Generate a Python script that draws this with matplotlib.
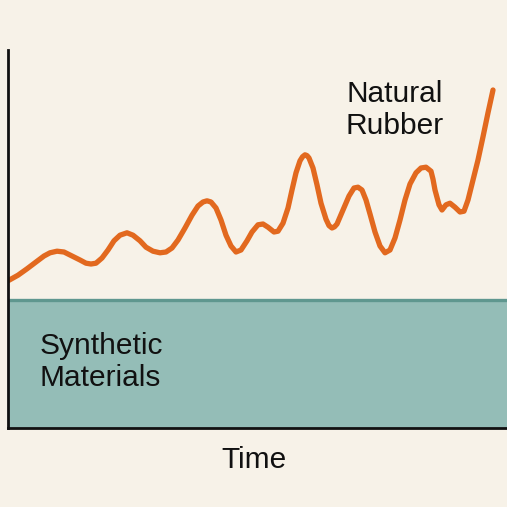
import matplotlib.pyplot as plt

# time (arbitrary units) vs. relative use
time = [0, 2, 3.8, 5.6, 7.2, 8.4, 9.8, 11.2, 12.8, 14.4,
        15.6, 16.6, 17.6, 18.8, 20, 21.2, 22.4, 23.8, 25, 26.4,
        27.6, 29, 30.4, 31.6, 32.8, 34, 35.4, 36.8, 38, 39,
        39.8, 40.6, 41.6, 42.6, 43.6, 44.6, 45.6, 46.6, 47.8, 48.8,
        50, 51, 52, 53.2, 54, 55, 56, 56.8, 57.6, 58.4,
        58.9, 59.4, 59.8, 60.2, 61, 61.8, 62.6, 63.6, 64.2, 64.8,
        65.3, 65.8, 67, 68.2, 69.2, 70, 70.8, 71.6, 72.4, 73.4,
        74.4, 75.4, 76.4, 77.4, 78.4, 79.4, 80.4, 81.6, 82.6, 83.6,
        84.6, 85, 85.4, 86.2, 86.8, 87.6, 88.4, 89.4, 90.4, 91.2,
        92, 93, 94, 95, 96, 97]
natural_rubber = [36.8, 38.2, 39.8, 41.5, 43, 43.8, 44.2, 44, 43, 42,
                  41.2, 41, 41.2, 42.5, 44.5, 46.8, 48.2, 48.8, 48.2, 46.8,
                  45.2, 44.2, 43.8, 44, 45, 47, 50, 53.2, 55.5, 56.5,
                  56.8, 56.5, 55, 52, 48.2, 45.5, 44, 44.5, 46.8, 49,
                  50.8, 51, 50.2, 49, 49.2, 51.2, 55, 59.5, 63.8, 66.8,
                  67.8, 68.3, 68.1, 67.5, 65, 60.8, 56.2, 52.2, 50.6, 50,
                  50.3, 51, 54.5, 58, 60, 60.2, 59.5, 57, 53.5, 49,
                  45.5, 43.8, 44.5, 47.5, 52, 57, 61, 63.8, 65, 65.2,
                  64.2, 62.2, 59.5, 55.8, 54.5, 55.8, 56.2, 55.2, 54, 54.2,
                  57, 62, 67, 72.8, 78.8, 84.5]
synthetic_span = [0, 100]
synthetic_level = [32, 32]

bg = "#f7f2e8"
orange = "#e2691f"
teal_fill = "#94bdb7"
teal_edge = "#5f978f"

fig = plt.figure(figsize=(5.07, 5.07), dpi=100, facecolor=bg)
ax = fig.add_axes([8 / 507, (507 - 428) / 507, 500 / 507, 378 / 507])
ax.set_facecolor(bg)

ax.fill_between(synthetic_span, 0, synthetic_level, color=teal_fill, lw=0, zorder=1)
ax.plot(synthetic_span, synthetic_level, color=teal_edge, lw=2.4, zorder=2)
ax.plot(time, natural_rubber, color=orange, lw=3.8, solid_joinstyle="round",
        solid_capstyle="round", zorder=3)

ax.set_xlim(0, 100)
ax.set_ylim(0, 94.5)
ax.set_xticks([])
ax.set_yticks([])
for side in ("top", "right"):
    ax.spines[side].set_visible(False)
for side in ("left", "bottom"):
    ax.spines[side].set_linewidth(2)
    ax.spines[side].set_color("#111111")
    ax.spines[side].set_zorder(4)

font = dict(family=["Liberation Sans", "DejaVu Sans"], fontsize=21.5, color="#111111")
ax.text(77.4, 83.5, "Natural", ha="center", va="center", **font)
ax.text(77.4, 75.5, "Rubber", ha="center", va="center", **font)
ax.text(6.4, 20.5, "Synthetic", ha="left", va="center", zorder=5, **font)
ax.text(6.4, 12.5, "Materials", ha="left", va="center", zorder=5, **font)
ax.text(49.2, -8, "Time", ha="center", va="center", clip_on=False, **font)

fig.savefig("out.png", dpi=100, facecolor=bg)
